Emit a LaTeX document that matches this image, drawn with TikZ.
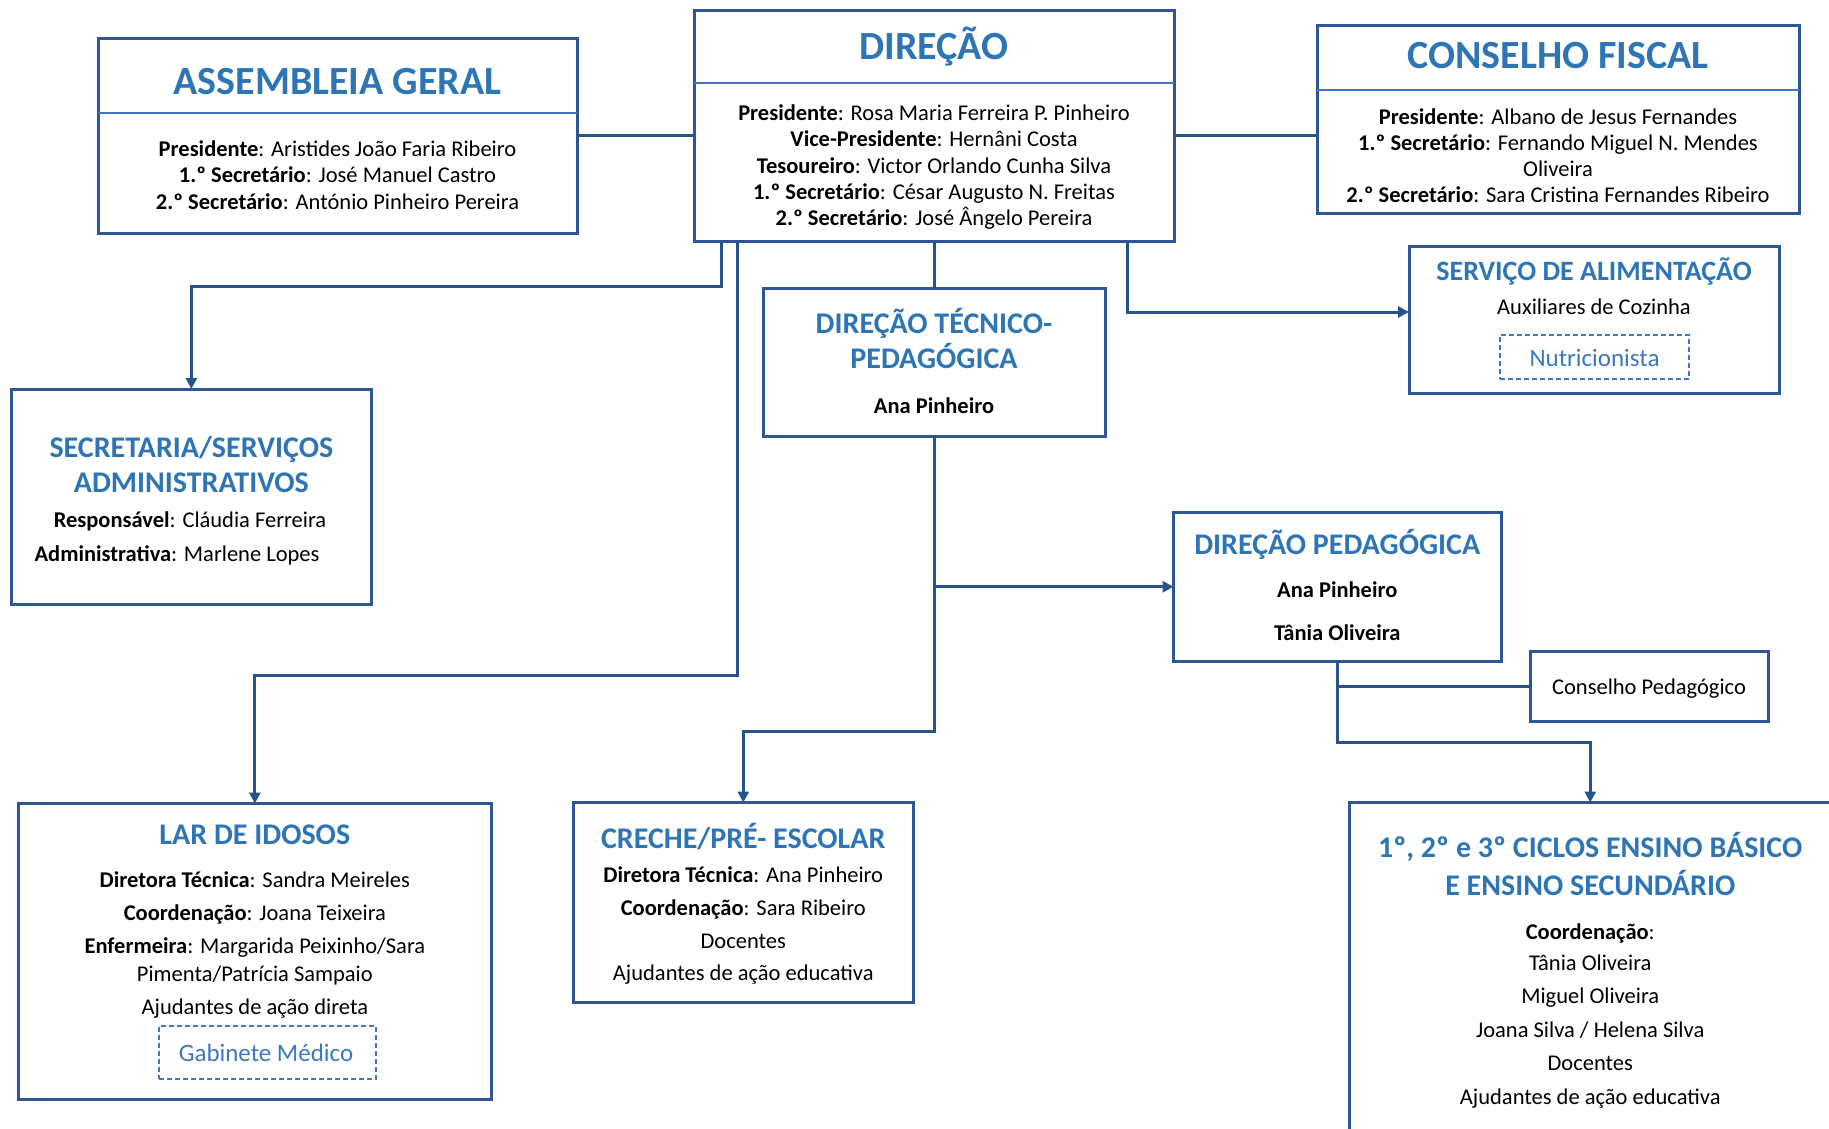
\documentclass[tikz,border=0pt]{standalone}
\usepackage{fontspec}
\setmainfont{Carlito}
\usetikzlibrary{arrows.meta,calc}
\definecolor{bord}{RGB}{47,85,151}
\definecolor{connc}{RGB}{38,84,138}
\definecolor{ttl}{RGB}{46,117,182}
\definecolor{divc}{RGB}{68,114,196}
\definecolor{dsh}{RGB}{60,120,190}
\tikzset{
 box/.style={draw=bord, line width=3pt, rectangle, inner sep=0pt, outer sep=0pt, fill=white},
 dbox/.style={draw=dsh, line width=1.6pt, dash pattern=on 5pt off 3pt, rectangle, inner sep=0pt, outer sep=0pt},
 ttlA/.style={text=ttl, font=\fontsize{40}{46}\selectfont\bfseries, inner sep=0pt, anchor=base},
 ttlB/.style={text=ttl, font=\fontsize{30}{36}\selectfont\bfseries, inner sep=0pt, anchor=base},
 ttlC/.style={text=ttl, font=\fontsize{28}{34}\selectfont\bfseries, inner sep=0pt, anchor=base},
 body/.style={font=\fontsize{22.5}{27}\selectfont, inner sep=0pt, anchor=base},
 dtext/.style={text=dsh, font=\fontsize{25}{30}\selectfont, inner sep=0pt, anchor=base},
 wire/.style={draw=connc, line width=3pt},
 arr/.style={wire, -{Triangle[length=11pt,width=11pt]}},
 divl/.style={draw=divc, line width=2.5pt},
}
\begin{document}
\begin{tikzpicture}[x=1pt,y=-1pt]
\fill[white] (0,0) rectangle (1829,1129);
\useasboundingbox (0,0) rectangle (1829,1129);

% ---------- boxes ----------
\node[box, minimum width=479pt, minimum height=194.5pt] (asm) at (337.5,135.75) {};
\node[box, minimum width=480pt, minimum height=231pt] (dir) at (934,126) {};
\node[box, minimum width=482pt, minimum height=187.8pt] (cf) at (1558,119.6) {};
\node[box, minimum width=370pt, minimum height=147pt] (ser) at (1594,319.5) {};
\node[box, minimum width=342pt, minimum height=148pt] (dtp) at (934,362) {};
\node[box, minimum width=359.3pt, minimum height=215pt] (sec) at (191.35,496.5) {};
\node[box, minimum width=472.3pt, minimum height=296pt] (lar) at (254.85,951.5) {};
\node[box, minimum width=340.5pt, minimum height=199.5pt] (cre) at (743.25,902.25) {};
\node[box, minimum width=327.5pt, minimum height=148.5pt] (dp) at (1337.25,586.75) {};
\node[box, minimum width=238pt, minimum height=70.5pt] (cp) at (1649,686.25) {};
\begin{scope}
\clip (0,0) rectangle (1829,1129);
\node[box, minimum width=481.5pt, minimum height=357.5pt] (cic) at (1590.25,981.25) {};
\end{scope}

% dividers
\draw[divl] ($(asm.north west)+(0,74.5)$) -- ($(asm.north east)+(0,74.5)$);
\draw[divl] ($(dir.north west)+(0,72.5)$) -- ($(dir.north east)+(0,72.5)$);
\draw[divl] ($(cf.north west)+(0,64.3)$) -- ($(cf.north east)+(0,64.3)$);

% ---------- connectors ----------
\draw[wire] (asm.east) -- (asm.east -| dir.west);
\draw[wire] (dir.east |- asm.east) -- (cf.west |- asm.east);
\draw[arr] ($(dir.south west)+(27,0)$) -- ++(0,44.5) -| (sec.north);
\draw[arr] ($(dir.south west)+(43,0)$) -- ++(0,434) -| (lar.north);
\draw[wire] (dir.south) -- (dtp.north);
\draw[arr] ($(dir.south west)+(433,0)$) |- ($(ser.west)+(0,-7.5)$);
\draw[arr] (dtp.south) -- ++(0,295) -| (cre.north);
\draw[arr] (dtp.south |- dp.west) -- (dp.west);
\draw[arr] (dp.south) -- ++(0,81) -| (cic.north);
\draw[wire] (dp.south |- cp.west) -- (cp.west);

% ---------- Assembleia Geral ----------
\node[ttlA] (asmT) at (337.5,94.5) {ASSEMBLEIA GERAL};
\node[body] (asm1) at (337.5,156.5) {\textbf{Presidente}: Aristides João Faria Ribeiro};
\node[body] (asm2) at (337.5,182.5) {\textbf{1.º Secretário}: José Manuel Castro};
\node[body] (asm3) at (337.5,209) {\textbf{2.º Secretário}: António Pinheiro Pereira};

% ---------- Direção ----------
\node[ttlA] (dirT) at (934,59.5) {DIREÇÃO};
\node[body] (dir1) at (934,120.5) {\textbf{Presidente}: Rosa Maria Ferreira P. Pinheiro};
\node[body] (dir2) at (934,146.75) {\textbf{Vice-Presidente}: Hernâni Costa};
\node[body] (dir3) at (934,173) {\textbf{Tesoureiro}: Victor Orlando Cunha Silva};
\node[body] (dir4) at (934,199.25) {\textbf{1.º Secretário}: César Augusto N. Freitas};
\node[body] (dir5) at (934,225.5) {\textbf{2.º Secretário}: José Ângelo Pereira};

% ---------- Conselho Fiscal ----------
\node[ttlA] (cfT) at (1558,68.5) {CONSELHO FISCAL};
\node[body] (cf1) at (1558,124.5) {\textbf{Presidente}: Albano de Jesus Fernandes};
\node[body] (cf2) at (1558,150.5) {\textbf{1.º Secretário}: Fernando Miguel N. Mendes};
\node[body] (cf3) at (1558,176.5) {Oliveira};
\node[body] (cf4) at (1558,202.5) {\textbf{2.º Secretário}: Sara Cristina Fernandes Ribeiro};

% ---------- Serviço de Alimentação ----------
\node[ttlC] (serT) at (1594,280) {SERVIÇO DE ALIMENTAÇÃO};
\node[body] (ser1) at (1594,314.5) {Auxiliares de Cozinha};
\node[dbox, minimum width=189pt, minimum height=44pt] (nut) at (1594.5,357) {};
\node[dtext] (nutT) at (1594.5,366) {Nutricionista};

% ---------- Direção Técnico-Pedagógica ----------
\node[ttlB] (dtpT1) at (934,333.5) {DIREÇÃO TÉCNICO-};
\node[ttlB] (dtpT2) at (934,368.5) {PEDAGÓGICA};
\node[body] (dtp1) at (934,413.5) {\textbf{Ana Pinheiro}};

% ---------- Secretaria ----------
\node[ttlB] (secT1) at (191.35,457.5) {SECRETARIA/SERVIÇOS};
\node[ttlB] (secT2) at (191.35,492.5) {ADMINISTRATIVOS};
\node[body] (sec1) at (190,527.5) {\textbf{Responsável}: Cláudia Ferreira};
\node[body] (sec2) at (177,561.5) {\textbf{Administrativa}: Marlene Lopes};

% ---------- Lar de Idosos ----------
\node[ttlB] (larT) at (254.85,844.5) {LAR DE IDOSOS};
\node[body] (lar1) at (254.85,887.5) {\textbf{Diretora Técnica}: Sandra Meireles};
\node[body] (lar2) at (254.85,920.5) {\textbf{Coordenação}: Joana Teixeira};
\node[body] (lar3) at (254.85,953.5) {\textbf{Enfermeira}: Margarida Peixinho/Sara};
\node[body] (lar4) at (254.85,981.5) {Pimenta/Patrícia Sampaio};
\node[body] (lar5) at (254.85,1014.5) {Ajudantes de ação direta};
\node[dbox, minimum width=217pt, minimum height=53pt] (gab) at (267.5,1052.5) {};
\node[dtext] (gabT) at (266,1061.5) {Gabinete Médico};

% ---------- Creche ----------
\node[ttlB] (creT) at (743.25,848.5) {CRECHE/PRÉ- ESCOLAR};
\node[body] (cre1) at (743.25,882.5) {\textbf{Diretora Técnica}: Ana Pinheiro};
\node[body] (cre2) at (743.25,915.5) {\textbf{Coordenação}: Sara Ribeiro};
\node[body] (cre3) at (743.25,948.5) {Docentes};
\node[body] (cre4) at (743.25,980.5) {Ajudantes de ação educativa};

% ---------- Direção Pedagógica ----------
\node[ttlB] (dpT) at (1337.25,554.5) {DIREÇÃO PEDAGÓGICA};
\node[body] (dp1) at (1337.25,597.5) {\textbf{Ana Pinheiro}};
\node[body] (dp2) at (1337.25,640.5) {\textbf{Tânia Oliveira}};

% ---------- Conselho Pedagógico ----------
\node[body] (cpT) at (1649,694.5) {Conselho Pedagógico};

% ---------- Ciclos ----------
\node[ttlB] (cicT1) at (1590.25,857.5) {1º, 2º e 3º CICLOS ENSINO BÁSICO};
\node[ttlB] (cicT2) at (1590.25,895.5) {E ENSINO SECUNDÁRIO};
\node[body] (cic1) at (1590.25,939.5) {\textbf{Coordenação}:};
\node[body] (cic2) at (1590.25,970.5) {Tânia Oliveira};
\node[body] (cic3) at (1590.25,1003.5) {Miguel Oliveira};
\node[body] (cic4) at (1590.25,1037.5) {Joana Silva / Helena Silva};
\node[body] (cic5) at (1590.25,1070.5) {Docentes};
\node[body] (cic6) at (1590.25,1104.5) {Ajudantes de ação educativa};
\end{tikzpicture}
\end{document}
